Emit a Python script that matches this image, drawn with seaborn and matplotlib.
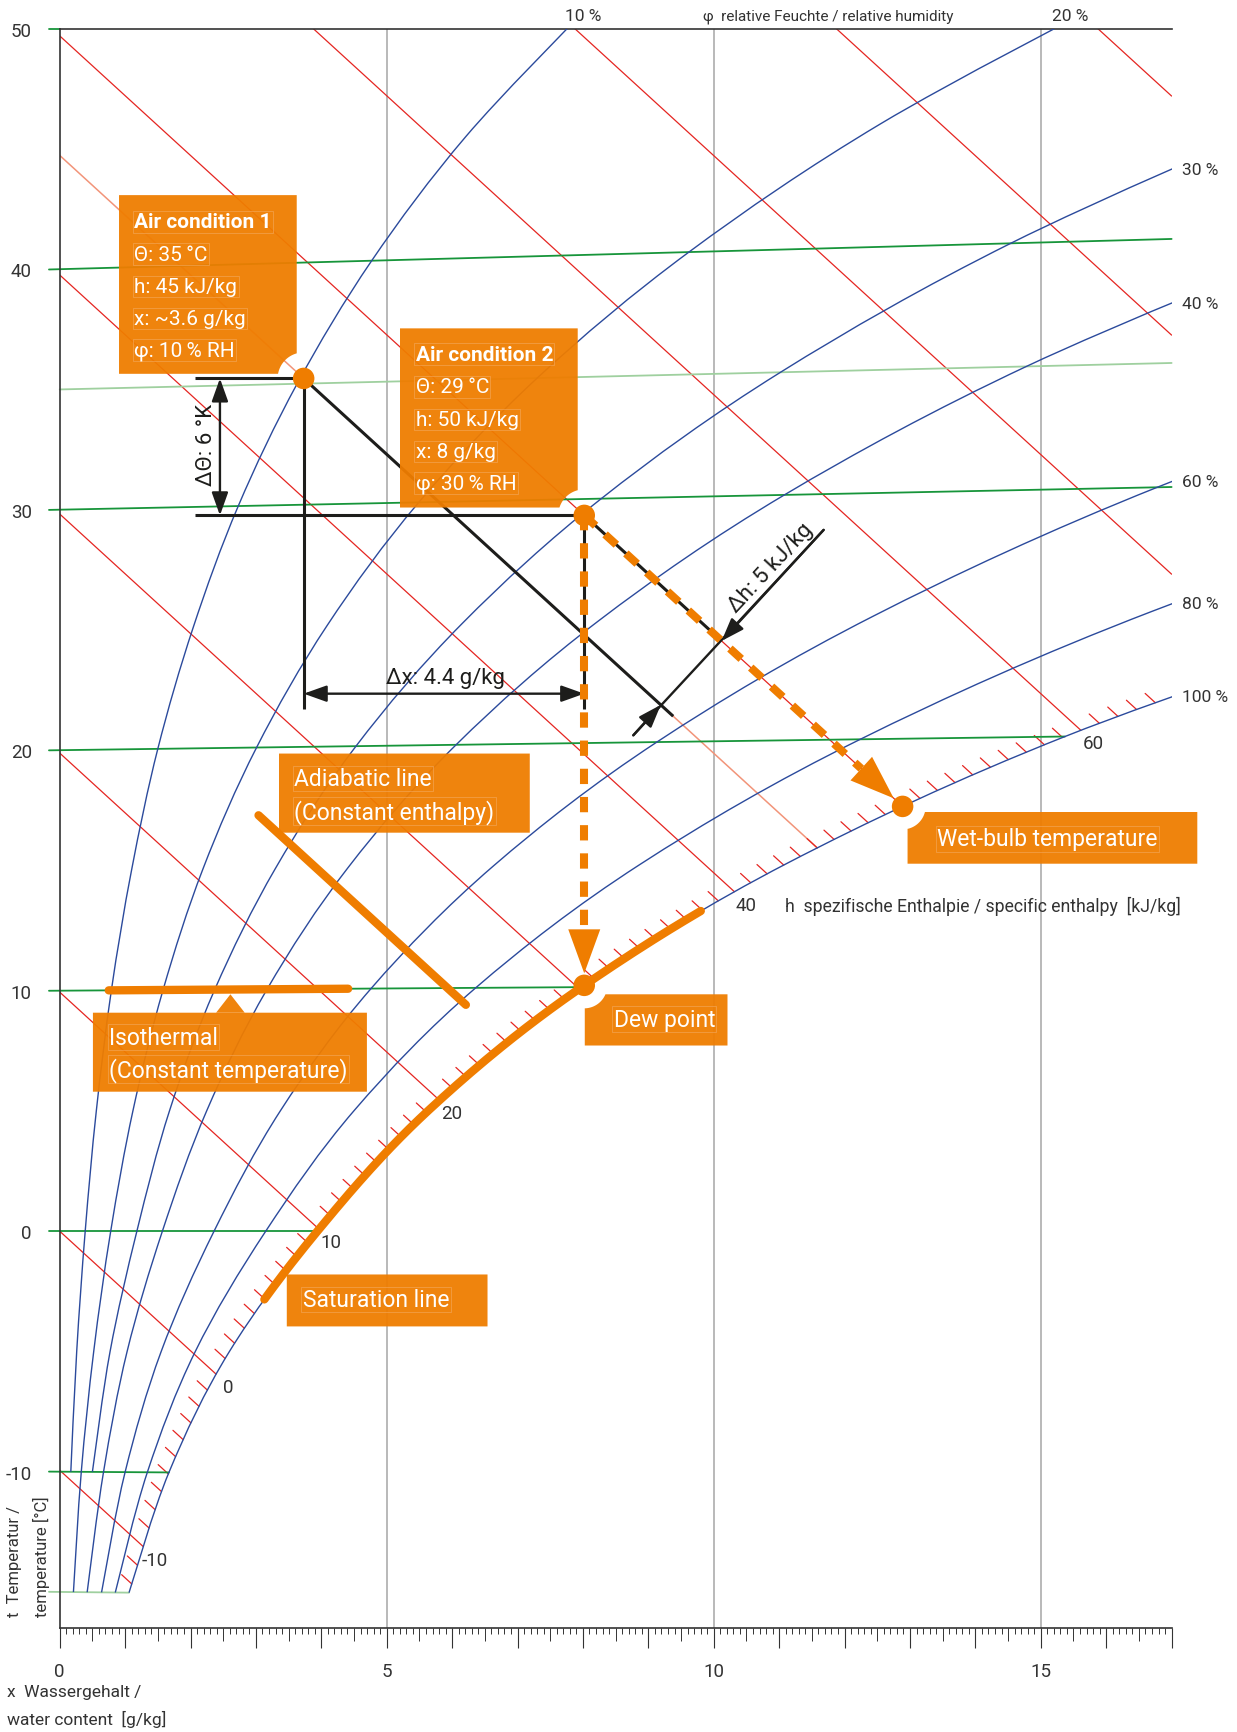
import numpy as np
import pandas as pd
import matplotlib
matplotlib.use("Agg")
import matplotlib.pyplot as plt
from matplotlib import font_manager
from matplotlib.path import Path
from matplotlib.patches import PathPatch, Polygon, FancyArrowPatch
import seaborn as sns

nan = np.nan

# temperatures (°C at the left edge) where the humidity curves were read
temps = [-15, -10, -5, 0, 5, 10, 15, 20, 25, 30, 35, 40, 45, 50]
# water content x [g/kg] of each relative humidity curve at those temperatures
x_rh10 = [nan, 0.17, 0.26, 0.39, 0.56, 0.79, 1.10, 1.50, 2.04, 2.73, 3.63, 4.77, 6.21, 8.02]
x_rh20 = [0.21, 0.33, 0.52, 0.78, 1.12, 1.58, 2.19, 3.01, 4.09, 5.49, 7.30, 9.62, 12.55, 16.25]
x_rh30 = [nan, 0.50, 0.77, 1.18, 1.68, 2.37, 3.30, 4.53, 6.16, 8.28, 11.02, 14.54, 19.02, nan]
x_rh40 = [0.42, 0.67, 1.03, 1.57, 2.25, 3.17, 4.41, 6.06, 8.24, 11.08, 14.78, 19.54, nan, nan]
x_rh60 = [0.64, 1.00, 1.55, 2.36, 3.38, 4.76, 6.63, 9.13, 12.44, 16.78, 22.44, nan, nan, nan]
x_rh80 = [0.85, 1.34, 2.07, 3.15, 4.51, 6.36, 8.87, 12.24, 16.70, 22.57, nan, nan, nan, nan]
x_rh100 = [1.06, 1.67, 2.59, 3.94, 5.65, 7.98, 11.13, 15.37, 21.01, nan, nan, nan, nan, nan]
rh_names = ["10 %", "20 %", "30 %", "40 %", "60 %", "80 %", "100 %"]
rh_x = [x_rh10, x_rh20, x_rh30, x_rh40, x_rh60, x_rh80, x_rh100]

isotherms = [-15, -10, 0, 10, 20, 30, 40]
enthalpies = [-10, 0, 10, 20, 30, 40, 50, 60, 70, 80, 90]
enthalpy_marked = [-10, 0, 10, 20, 40, 60]
temp_ticks = [-10, 0, 10, 20, 30, 40, 50]

state1 = (3.73, 45)   # x [g/kg], h [kJ/kg]
state2 = (8.02, 50)

BLUE = "#2b4a9c"
RED = "#e52521"
SALMON = "#f29479"
GREEN = "#17953a"
LGREEN = "#9fd09f"
ORANGE = "#ef7d00"
GREY = "#a6a6a6"
INK = "#1d1d1b"
TXT = "#333333"

TILT = 0.00185  # isotherms climb ~1.3 K over 17 g/kg at 40 °C


def chart_y(t, x):
    return np.asarray(t, float) * (1 + TILT * np.asarray(x, float))


def isenthalp_y(h, x):
    return (h - 2.501 * np.asarray(x, float)) / 1.006


def enthalpy(x, y):
    return 1.006 * y + 2.501 * x


def bezier_segments(xs, ys):
    p = np.column_stack([xs, ys])
    segs = []
    for i in range(len(p) - 1):
        p0, p1, p2 = p[max(i - 1, 0)], p[i], p[i + 1]
        p3 = p[min(i + 2, len(p) - 1)]
        segs.append((p1, p1 + (p2 - p0) / 6, p2 - (p3 - p1) / 6, p2))
    return segs


def smooth_path(xs, ys):
    segs = bezier_segments(xs, ys)
    verts, codes = [segs[0][0]], [Path.MOVETO]
    for _, c1, c2, p2 in segs:
        verts += [c1, c2, p2]
        codes += [Path.CURVE4] * 3
    return Path(verts, codes)


def path_points(xs, ys, n=40):
    t = np.linspace(0, 1, n)[:, None]
    out = [(1 - t) ** 3 * a + 3 * (1 - t) ** 2 * t * b + 3 * (1 - t) * t ** 2 * c + t ** 3 * d
           for a, b, c, d in bezier_segments(xs, ys)]
    return np.vstack(out)


curves = {}
for name, xs in zip(rh_names, rh_x):
    xs = np.array(xs, float)
    ok = ~np.isnan(xs)
    tv = np.array(temps, float)[ok]
    curves[name] = (xs[ok], chart_y(tv, xs[ok]))

sat = path_points(*curves["100 %"])
sat_x, sat_y = sat[:, 0], sat[:, 1]
sat_h = enthalpy(sat_x, sat_y)


def on_sat(h):
    return np.interp(h, sat_h, sat_x), np.interp(h, sat_h, sat_y)


sns.set_theme(style="white")
names = {f.name for f in font_manager.fontManager.ttflist}
COND = "Liberation Sans Narrow" if "Liberation Sans Narrow" in names else "Roboto"
plt.rcParams["font.family"] = [COND, "DejaVu Sans"]
BOXFONT = ["Roboto", "DejaVu Sans"]
NUM = 13.5      # numbers on the chart
WORDS = 12      # longer captions (narrow face in the original)

fig = plt.figure(figsize=(12.37, 17.33), dpi=100)
ax = fig.add_axes([0.04826, 0.06001, 0.89887, 0.92285])
ax.set_xlim(0, 17)
ax.set_ylim(-16.5, 50)

# grid lines
ax.vlines([5, 10, 15], -16.5, 50, color=GREY, lw=1.1, zorder=1)

# isenthalps
rows = []
for h in enthalpies:
    xe = min(np.interp(h, sat_h, sat_x), 17.0)
    for xv in (0.0, xe):
        rows.append(dict(h=h, x=xv, y=float(isenthalp_y(h, xv))))
sns.lineplot(data=pd.DataFrame(rows), x="x", y="y", units="h", estimator=None,
             sort=False, color=RED, lw=0.9, legend=False, ax=ax, zorder=2)
xe45 = np.interp(45, sat_h, sat_x)
ax.plot([0, xe45], isenthalp_y(45, [0, xe45]), color=SALMON, lw=1.1, zorder=2)

# enthalpy scale ticks along the saturation line
rows = []
for h in range(-12, 65):
    if h % 10 == 0:
        continue
    xe, ye = on_sat(h)
    if xe > 16.9:
        continue
    xs = xe - 0.155
    rows += [dict(h=h, x=xs, y=float(isenthalp_y(h, xs))), dict(h=h, x=xe, y=ye)]
sns.lineplot(data=pd.DataFrame(rows), x="x", y="y", units="h", estimator=None,
             sort=False, color=RED, lw=0.9, legend=False, ax=ax, zorder=2)

for h in enthalpy_marked:
    xe, ye = on_sat(h)
    ax.annotate(str(h), (xe, ye), xytext=(12, -13), textcoords="offset pixels",
                ha="center", va="center", fontsize=NUM, color=TXT, zorder=3)

# isotherms (with little ticks left of the axis)
for t in isotherms + [35]:
    xe = min(np.interp(t, temps[:9], x_rh100[:9]), 17.0)
    xv = np.array([-0.164, xe]) if t != 35 else np.array([0, 17.0])
    col = LGREEN if t in (35, -15) else GREEN
    ax.plot(xv, chart_y(t, xv), color=col, lw=1.3, zorder=2, clip_on=False)
ax.plot([-0.164, 0], [50, 50], color=GREEN, lw=1.3, clip_on=False)

# relative humidity curves
for name in rh_names:
    xs, ys = curves[name]
    ax.add_patch(PathPatch(smooth_path(xs, ys), fill=False, ec=BLUE, lw=1.0, zorder=3))
    pts = path_points(xs, ys)
    if name in ("10 %", "20 %"):
        xt = np.interp(50, pts[:, 1], pts[:, 0])
        ax.annotate(name, (xt, 50), xytext=(16, 13), textcoords="offset pixels",
                    ha="center", va="center", fontsize=12.5, color=TXT)
    else:
        yr = np.interp(17, pts[:, 0], pts[:, 1])
        ax.annotate(name, (17, yr), xytext=(10, 0), textcoords="offset pixels",
                    ha="left", va="center", fontsize=12.5, color=TXT)

ax.annotate("φ  relative Feuchte / relative humidity", (9.84, 50), xytext=(0, 13),
            textcoords="offset pixels", ha="left", va="center", fontsize=11, color=TXT)
ax.text(11.09, 13.53, "h  spezifische Enthalpie / specific enthalpy  [kJ/kg]",
        ha="left", va="center", fontsize=12.7, color=TXT)

# axes styling
for s in ("left", "top", "bottom"):
    ax.spines[s].set_color(TXT)
    ax.spines[s].set_linewidth(1.2)
ax.spines["right"].set_visible(False)
ax.set_xticks(np.arange(0, 18))
ax.set_xticks([k / 10 for k in range(171) if k % 5], minor=True)
ax.xaxis.set_major_formatter(plt.FuncFormatter(lambda v, p: f"{v:.0f}" if v % 5 == 0 else ""))
ax.tick_params(axis="x", which="major", bottom=True, direction="out", length=14.4,
               width=0.8, color=TXT, pad=10, labelsize=NUM, labelcolor=TXT)
ax.tick_params(axis="x", which="minor", bottom=True, direction="out", length=4.3,
               width=0.7, color=TXT)
for tk in ax.xaxis.get_major_ticks():
    if tk.get_loc() in (5, 10, 15):
        tk.tick1line.set_color(GREY)
sec = ax.secondary_xaxis("bottom")
sec.set_xticks(np.arange(0.5, 17, 1))
sec.tick_params(bottom=True, direction="out", length=9.4, width=0.7, color=TXT, labelbottom=False)
sec.spines["bottom"].set_visible(False)
ax.set_yticks(temp_ticks)
ax.set_yticklabels([str(t) for t in temp_ticks])
ax.tick_params(axis="y", left=False, length=0, pad=20, labelsize=NUM, labelcolor=TXT)
ax.set_xlabel("")
ax.set_ylabel("")

fig.text(7.3 / 1237, 1 - 1693 / 1733, "x  Wassergehalt /", ha="left", va="center",
         fontsize=WORDS + 0.5, color=TXT)
fig.text(7.3 / 1237, 1 - 1719 / 1733, "water content  [g/kg]", ha="left", va="center",
         fontsize=WORDS + 0.5, color=TXT)
fig.text(15 / 1237, 1 - 1617 / 1733, "t  Temperatur /", rotation=90, ha="center",
         va="bottom", fontsize=WORDS, color=TXT)
fig.text(41.7 / 1237, 1 - 1617 / 1733, "temperature [°C]", rotation=90, ha="center",
         va="bottom", fontsize=WORDS, color=TXT)

# ---- process annotation --------------------------------------------------
x1, h1 = state1
x2, h2 = state2
y1 = float(isenthalp_y(h1, x1))
y2 = float(isenthalp_y(h2, x2))
dew = (x2, float(np.interp(x2, sat_x, sat_y)))
wet = on_sat(h2)

black = dict(color=INK, lw=2.2, zorder=4, solid_capstyle="butt")
ax.plot([2.07, x1], [y1, y1], **black)
ax.plot([2.07, x2], [y2, y2], **black)
ax.plot([x1, x1], [y1, 21.7], **black)
ax.plot([x2, x2], [y2, 21.7], **black)
ax.plot([x1, 9.38], isenthalp_y(h1, [x1, 9.38]), **black)
ax.plot([x2, 10.12], isenthalp_y(h2, [x2, 10.12]), **black)
ax.plot([8.77, 11.68], [20.62, 29.16], color=INK, lw=1.7, zorder=4)

arrow_kw = dict(arrowstyle="<|-|>,head_length=1.4,head_width=0.5", mutation_scale=10,
                color=INK, lw=1.7, shrinkA=0, shrinkB=0, zorder=4)
ax.add_patch(FancyArrowPatch((2.45, y1), (2.45, y2), **arrow_kw))
ax.add_patch(FancyArrowPatch((x1, 22.35), (x2, 22.35), **arrow_kw))
one_kw = dict(arrow_kw, arrowstyle="-|>,head_length=1.4,head_width=0.5")
ax.add_patch(FancyArrowPatch((11.68, 29.16), (10.12, float(isenthalp_y(h2, 10.12))), **one_kw))
ax.add_patch(FancyArrowPatch((8.77, 20.62), (9.19, float(isenthalp_y(h1, 9.19))), **one_kw))

lab = dict(family=BOXFONT, fontsize=16, color=INK, ha="center", va="center", zorder=5)
ax.text(2.237, 32.72, "ΔΘ: 6 °K", rotation=90, **lab)
ax.text(5.90, 23.02, "Δx: 4.4 g/kg", **lab)
ax.text(10.87, 27.60, "Δh: 5 kJ/kg", rotation=47.2, **lab)

# orange highlights
thick = dict(color=ORANGE, lw=6, solid_capstyle="round", zorder=6)
ax.plot([3.04, 6.21], isenthalp_y(25, [3.04, 6.21]), **thick)
ax.plot([0.75, 4.41], chart_y(10, [0.75, 4.41]), **thick)
seg = (sat_x >= 3.11) & (sat_x <= 9.85)
ax.plot(sat_x[seg], sat_y[seg], **thick)

T = ax.transData


def step_from(p, q, px):
    a, b = T.transform([p, q])
    d = (b - a) / np.hypot(*(b - a))
    return T.inverted().transform([a + d * px])[0]


def arrow_head(tip, tail, length=44, width=32):
    a, b = T.transform([tip, tail])
    d = (a - b) / np.hypot(*(a - b))
    n = np.array([-d[1], d[0]])
    base = a - d * length
    tri = np.array([a, base + n * width / 2, base - n * width / 2])
    ax.add_patch(Polygon(T.inverted().transform(tri), closed=True, fc=ORANGE, ec="none", zorder=6))
    return T.inverted().transform([base])[0]


for target in (dew, wet):
    tip = step_from(target, (x2, y2), 12)
    base = arrow_head(tip, (x2, y2))
    ax.plot([x2, base[0]], [y2, base[1]], color=ORANGE, lw=5.8, ls=(0, (1.9, 1.6)),
            dash_capstyle="butt", zorder=6)

sns.scatterplot(x=[x1, x2, dew[0], wet[0]], y=[y1, y2, dew[1], wet[1]], s=240,
                color=ORANGE, edgecolor="none", zorder=8, ax=ax, legend=False)


def note_box(x0, y0, x1_, y1_, notch=None, r=24):
    (X0, Y0), (X1, Y1) = T.transform([(x0, y0), (x1_, y1_)])
    n = 300
    edges = [np.column_stack([np.linspace(X0, X1, n), np.full(n, Y0)]),
             np.column_stack([np.full(n, X1), np.linspace(Y0, Y1, n)]),
             np.column_stack([np.linspace(X1, X0, n), np.full(n, Y1)]),
             np.column_stack([np.full(n, X0), np.linspace(Y1, Y0, n)])]
    pts = np.vstack(edges)
    if notch is not None:
        c = T.transform([notch])[0]
        d = pts - c
        dist = np.hypot(d[:, 0], d[:, 1])
        inside = dist < r
        pts[inside] = c + d[inside] / dist[inside, None] * r
    ax.add_patch(Polygon(T.inverted().transform(pts), closed=True, fc=ORANGE, ec="none",
                         alpha=0.95, zorder=7, clip_on=False))


def box_lines(x, ys, lines, size, bold_first=False):
    for i, (yy, s) in enumerate(zip(ys, lines)):
        ax.text(x, yy, s, family=BOXFONT, fontsize=size, color="white", ha="left", va="center",
                fontweight="bold" if (bold_first and i == 0) else "normal", zorder=9,
                bbox=dict(boxstyle="square,pad=0.06", fc="none", ec="#f3a658", lw=0.45))


note_box(0.907, 35.65, 3.624, 43.08, notch=(x1, y1), r=26)
box_lines(1.141, [41.97, 40.63, 39.28, 37.95, 36.65],
          ["Air condition 1", "Θ: 35\u2009°C", "h: 45 kJ/kg", "x: ~3.6 g/kg", "φ: 10\u2009% RH"],
          15, True)
note_box(5.203, 30.09, 7.92, 37.54, notch=(x2, y2), r=26)
box_lines(5.443, [36.47, 35.11, 33.76, 32.42, 31.10],
          ["Air condition 2", "Θ: 29\u2009°C", "h: 50 kJ/kg", "x: 8 g/kg", "φ: 30\u2009% RH"],
          15, True)
note_box(3.353, 16.57, 7.187, 19.86)
box_lines(3.589, [18.82, 17.47], ["Adiabatic line", "(Constant enthalpy)"], 16.5)
note_box(0.508, 5.80, 4.697, 9.085)
ax.add_patch(Polygon([(2.391, 9.085), (2.829, 9.085), (2.610, 9.85)], closed=True,
                     fc=ORANGE, ec="none", alpha=0.95, zorder=7))
box_lines(0.754, [8.07, 6.73], ["Isothermal", "(Constant temperature)"], 16.5)
note_box(8.028, 7.72, 10.21, 9.85, notch=dew, r=23)
box_lines(8.468, [8.81], ["Dew point"], 16.5)
note_box(12.963, 15.28, 17.393, 17.43, notch=wet, r=23)
box_lines(13.417, [16.32], ["Wet-bulb temperature"], 16.5)
note_box(3.472, -3.96, 6.541, -1.80)
box_lines(3.716, [-2.84], ["Saturation line"], 16.5)

fig.savefig("out.png", dpi=100)
